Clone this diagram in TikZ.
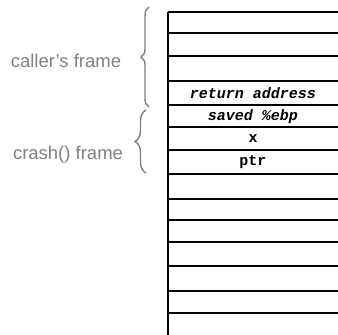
\documentclass[tikz,border=0pt]{standalone}
\usepackage{fontspec}
\setmainfont{Liberation Sans}
\newfontfamily\cellfont{Liberation Mono}
\usetikzlibrary{decorations.pathreplacing}
\definecolor{labelgray}{gray}{0.5}
\tikzset{
  rowline/.style={line width=2.2pt, black},
  leftline/.style={line width=1.6pt, black},
  cell/.style={inner sep=0pt, font=\cellfont\bfseries\fontsize{15}{15}\selectfont},
  celli/.style={cell, font=\cellfont\bfseries\itshape\fontsize{15}{15}\selectfont},
  framelabel/.style={inner sep=0pt, text=labelgray, font=\fontsize{18.5}{20}\selectfont},
  framebrace/.style={draw=labelgray, line width=1.4pt, decorate}
}
\begin{document}
\begin{tikzpicture}[x=1pt, y=-1pt]
\useasboundingbox (0,0) rectangle (338,335);
% row lines
\foreach \yy [count=\i] in {12.3,33,56.3,80.7,105.3,127.3,149.7,174,199.3,220.3,242.3,266.3,291.3,313.3}{
  \coordinate (l\i) at (168,\yy);
  \coordinate (r\i) at (338,\yy);
  \draw[rowline] (l\i) -- (r\i);
}
\coordinate (bottom) at (168,335);
\draw[leftline] (l1) -- (bottom);
% cell texts
\node[celli] (ret) at (253,93) {return address};
\node[celli] (ebp) at (253,116.3) {saved \%ebp};
\node[cell] (x) at (253,138.5) {x};
\node[cell] (ptr) at (253,162) {ptr};
% braces
\coordinate (b1s) at (149,107);
\coordinate (b1e) at (149,7);
\coordinate (b2s) at (146,173);
\coordinate (b2e) at (146,110);
\draw[framebrace, decoration={brace, amplitude=8pt}] (b1s) -- (b1e);
\draw[framebrace, decoration={brace, amplitude=11pt}] (b2s) -- (b2e);
% labels
\node[framelabel] (caller) at (66,61) {caller's frame};
\node[framelabel] (crash) at (68,155) {crash() frame};
\end{tikzpicture}
\end{document}
